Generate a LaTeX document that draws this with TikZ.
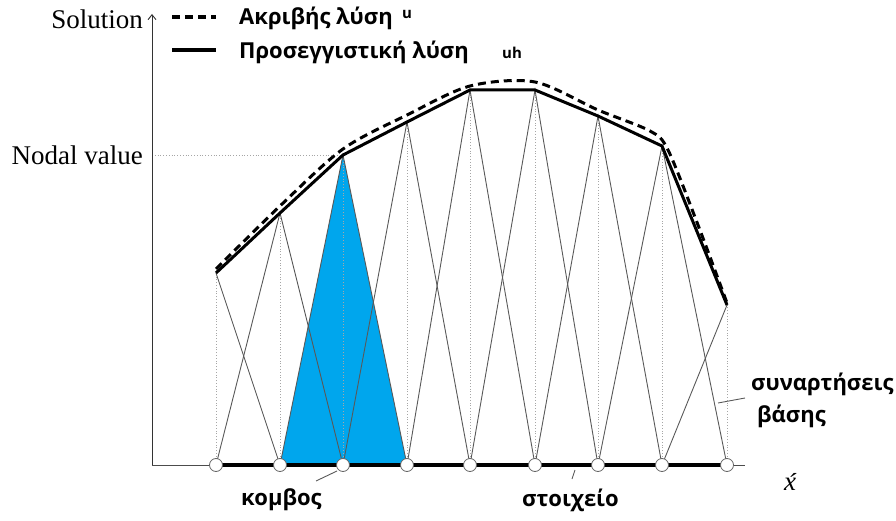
\documentclass[tikz,border=0pt]{standalone}
\usepackage{fontspec}
\setmainfont{Liberation Serif}
\newfontfamily\grk{Open Sans}
\usetikzlibrary{arrows.meta}
\definecolor{hatblue}{RGB}{0,166,237}
\tikzset{
  hat/.style={draw=black!65, line width=0.9pt},
  guide/.style={draw=black!35, dotted, line width=0.8pt},
  knot/.style={circle, draw=black!60, fill=white, line width=0.8pt, minimum size=13pt, inner sep=0pt},
  glabel/.style={font=\grk\bfseries\fontsize{22}{25}\selectfont, inner sep=0pt, anchor=west},
  slabel/.style={font=\fontsize{27}{30}\selectfont, inner sep=0pt, anchor=east},
  small/.style={font=\grk\bfseries\fontsize{15}{17}\selectfont, inner sep=0pt, anchor=west},
  leader/.style={draw=black!65, line width=0.9pt}
}
\begin{document}
\begin{tikzpicture}[x=1pt,y=-1pt]
\useasboundingbox (0,0) rectangle (896,521);
% node coordinates
\foreach \i/\x/\y in {1/216/273,2/280/213,3/343/155,4/407/122,5/470/90,6/535/90,7/598/116,8/662/146,9/727/305}{
  \coordinate (b\i) at (\x,465);
  \coordinate (t\i) at (\x,\y);
}
\coordinate (o) at (152,465);
\coordinate (ytop) at (152,14);
\coordinate (xend) at (745,465);
% blue basis function
\fill[hatblue] (b2) -- (t3) -- (b4) -- cycle;
% guides
\foreach \i in {1,...,9}{ \draw[guide] (b\i) -- (t\i); }
\draw[guide] (152,155) -- (t3);
% hat functions
\draw[hat] (t1) -- (b2);
\foreach \i/\l/\r in {2/1/3,3/2/4,4/3/5,5/4/6,6/5/7,7/6/8,8/7/9}{
  \draw[hat] (b\l) -- (t\i) -- (b\r);
}
\draw[hat] (b8) -- (t9);
% axes
\draw[black!70, line width=0.9pt] (o) -- (xend);
\draw[black!80, line width=0.9pt, -{Straight Barb[length=5pt,width=8pt]}] (o) -- (ytop);
\draw[black, line width=4pt] (b1) -- (b9);
% exact solution
\draw[black, line width=3pt, dash pattern=on 8pt off 5pt] plot[smooth, tension=0.5] coordinates {(216,269) (280,206) (343,149) (407,115) (470,86) (535,82) (598,110) (650,131) (668,150) (698,225) (727,303)};
% approximate solution
\draw[black, line width=3pt] (t1) -- (t2) -- (t3) -- (t4) -- (t5) -- (t6) -- (t7) -- (t8) -- (t9);
% knots
\foreach \i in {1,...,9}{ \node[knot] (k\i) at (b\i) {}; }
% axis labels
\node[slabel] (sol) at (143,19) {Solution};
\node[slabel] (nv) at (143,155) {Nodal value};
\node[inner sep=0pt, font=\itshape\fontsize{27}{29}\selectfont] (xl) at (790,482) {\'{x}};
% legend
\coordinate (la1) at (172,17);
\coordinate (la2) at (216,17);
\coordinate (lb1) at (172,50);
\coordinate (lb2) at (216,50);
\draw[black, line width=3.5pt, dash pattern=on 8pt off 5pt] (la1) -- (la2);
\draw[black, line width=3.5pt] (lb1) -- (lb2);
\node[glabel] (ex) at (239,18) {Ακριβής λύση};
\node[small] (exu) at (402,14) {u};
\node[small] (apu) at (502,53) {uh};
\node[glabel] (ap) at (239,52) {Προσεγγιστική λύση};
% other labels
\node[glabel] (sa) at (751,384) {συναρτήσεις};
\node[glabel] (sb) at (757,416) {βάσης};
\node[glabel] (kb) at (241,500) {κομβος};
\node[glabel] (st) at (522,500) {στοιχείο};
\coordinate (la) at (718,403);
\coordinate (lae) at (745,398);
\draw[leader] (la) -- (lae);
\coordinate (lk) at (337,471);
\coordinate (lke) at (316,481);
\draw[leader] (lk) -- (lke);
\coordinate (ls) at (575,470);
\coordinate (lse) at (572,479);
\draw[leader] (ls) -- (lse);
\end{tikzpicture}
\end{document}
